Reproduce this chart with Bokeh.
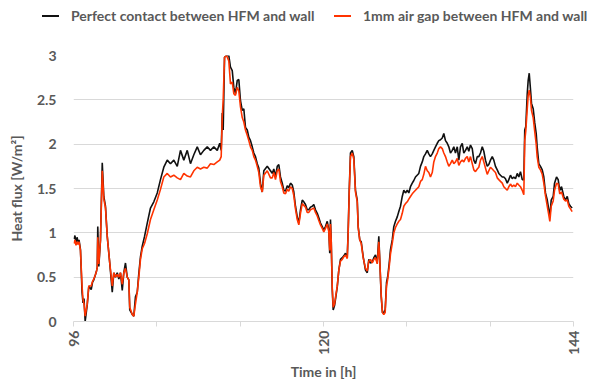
from bokeh.plotting import figure
from bokeh.layouts import column
from bokeh.models import Range1d, FixedTicker, Div
from bokeh.embed import file_html
from bokeh.resources import INLINE
import math

# Time axis [h] shared by both measurement series
hours = [
    96.05, 96.14, 96.24, 96.34, 96.43, 96.53, 96.67, 96.82, 96.91, 97.01,
    97.12, 97.32, 97.47, 97.58, 97.70, 97.82, 97.95, 98.11, 98.21, 98.28,
    98.33, 98.43, 98.59, 98.76, 98.91, 99.07, 99.24, 99.48, 99.72, 99.87,
    100.03, 100.20, 100.35, 100.51, 100.68, 100.83, 100.99, 101.16, 101.31, 101.40,
    101.64, 101.79, 101.95, 102.12, 102.27, 102.43, 102.60, 102.82, 103.08, 103.39,
    103.71, 104.04, 104.35, 104.67, 105.00, 105.31, 105.63, 105.96, 106.27, 106.59,
    106.92, 107.23, 107.55, 107.88, 108.19, 108.51, 108.84, 109.15, 109.47, 109.80,
    110.04, 110.18, 110.28, 110.37, 110.50, 110.69, 110.91, 111.07, 111.24, 111.39,
    111.55, 111.72, 111.87, 112.03, 112.20, 112.35, 112.51, 112.68, 112.83, 112.99,
    113.16, 113.31, 113.47, 113.64, 113.79, 113.95, 114.12, 114.27, 114.60, 114.91,
    115.08, 115.23, 115.39, 115.56, 115.71, 115.87, 116.04, 116.19, 116.35, 116.52,
    116.67, 116.83, 117.00, 117.15, 117.31, 117.48, 117.63, 117.79, 117.96, 118.11,
    118.27, 118.44, 118.59, 118.75, 118.92, 119.07, 119.23, 119.40, 119.55, 119.71,
    119.88, 120.03, 120.19, 120.36, 120.51, 120.60, 120.67, 120.74, 120.84, 120.93,
    121.06, 121.15, 121.32, 121.47, 121.63, 121.80, 121.95, 122.11, 122.28, 122.37,
    122.47, 122.59, 122.76, 122.91, 123.07, 123.24, 123.33, 123.48, 123.62, 123.81,
    124.03, 124.20, 124.35, 124.51, 124.68, 124.83, 124.99, 125.16, 125.31, 125.40,
    125.54, 125.66, 125.79, 125.92, 126.05, 126.17, 126.31, 126.43, 126.60, 126.75,
    126.91, 127.08, 127.23, 127.39, 127.56, 127.71, 127.87, 128.04, 128.19, 128.35,
    128.52, 128.67, 128.83, 129.15, 129.31, 129.48, 129.63, 129.79, 129.96, 130.11,
    130.27, 130.44, 130.59, 130.75, 130.92, 131.07, 131.23, 131.40, 131.55, 131.71,
    131.88, 132.03, 132.19, 132.36, 132.51, 132.67, 132.84, 132.99, 133.15, 133.32,
    133.47, 133.63, 133.80, 133.95, 134.11, 134.28, 134.43, 134.59, 134.76, 134.91,
    135.07, 135.24, 135.39, 135.55, 135.72, 135.87, 136.03, 136.20, 136.35, 136.51,
    136.68, 136.83, 136.99, 137.16, 137.31, 137.47, 137.64, 137.79, 137.95, 138.12,
    138.27, 138.43, 138.60, 138.75, 138.91, 139.08, 139.23, 139.32, 139.42, 139.56,
    139.65, 139.75, 139.87, 139.97, 140.13, 140.28, 140.42, 140.51, 140.67, 140.83,
    141.00, 141.15, 141.31, 141.48, 141.63, 141.73, 141.86, 142.05, 142.18, 142.37,
    142.53, 142.68, 142.85, 143.07, 143.23, 143.40, 143.55, 143.71, 143.87,
]

# Heat flux [W/m²], HFM in perfect contact with the wall
flux_contact = [
    0.93, 0.97, 0.88, 0.95, 0.90, 0.92, 0.81, 0.33, 0.21, 0.26,
    0.00, 0.19, 0.40, 0.38, 0.36, 0.44, 0.47, 0.53, 0.57, 0.61,
    1.07, 0.62, 0.92, 1.79, 1.41, 1.30, 0.96, 0.66, 0.33, 0.55,
    0.50, 0.55, 0.48, 0.55, 0.35, 0.55, 0.66, 0.50, 0.47, 0.13,
    0.08, 0.06, 0.28, 0.33, 0.54, 0.73, 0.85, 0.96, 1.11, 1.28,
    1.35, 1.45, 1.60, 1.74, 1.82, 1.78, 1.82, 1.75, 1.93, 1.82,
    1.93, 1.78, 1.88, 1.97, 1.88, 1.93, 1.97, 1.93, 1.97, 1.93,
    2.01, 1.93, 2.35, 2.16, 2.98, 3.00, 3.00, 2.87, 2.83, 2.64,
    2.57, 2.72, 2.73, 2.49, 2.38, 2.40, 2.19, 2.16, 2.08, 2.04,
    1.97, 1.90, 1.86, 1.78, 1.73, 1.56, 1.46, 1.70, 1.75, 1.70,
    1.67, 1.72, 1.63, 1.75, 1.77, 1.63, 1.56, 1.48, 1.47, 1.53,
    1.51, 1.56, 1.54, 1.46, 1.30, 1.18, 1.11, 1.26, 1.37, 1.35,
    1.32, 1.26, 1.26, 1.29, 1.30, 1.32, 1.26, 1.22, 1.17, 1.11,
    1.07, 1.03, 1.07, 1.13, 1.03, 0.77, 1.15, 0.92, 0.36, 0.13,
    0.18, 0.25, 0.39, 0.58, 0.70, 0.72, 0.74, 0.77, 0.72, 1.03,
    1.48, 1.90, 1.93, 1.86, 1.48, 1.37, 1.07, 0.92, 0.90, 0.73,
    0.58, 0.55, 0.70, 0.66, 0.67, 0.72, 0.75, 0.66, 0.96, 0.70,
    0.28, 0.10, 0.10, 0.13, 0.44, 0.51, 0.66, 0.81, 0.92, 1.07,
    1.13, 1.18, 1.24, 1.30, 1.41, 1.48, 1.45, 1.48, 1.45, 1.52,
    1.56, 1.59, 1.63, 1.67, 1.75, 1.80, 1.86, 1.89, 1.93, 1.89,
    1.86, 1.89, 1.93, 1.97, 2.01, 2.04, 2.05, 2.07, 2.12, 2.04,
    2.01, 1.97, 1.90, 1.93, 1.97, 1.90, 1.97, 1.82, 1.97, 2.01,
    1.90, 1.93, 1.97, 1.92, 1.99, 1.95, 1.82, 1.78, 1.86, 1.86,
    1.90, 1.97, 1.92, 1.82, 1.75, 1.77, 1.82, 1.86, 1.82, 1.75,
    1.71, 1.67, 1.65, 1.63, 1.63, 1.61, 1.56, 1.60, 1.65, 1.61,
    1.63, 1.61, 1.67, 1.63, 1.69, 1.60, 1.60, 2.16, 2.20, 2.57,
    2.72, 2.80, 2.62, 2.46, 2.40, 2.24, 2.12, 1.97, 1.78, 1.75,
    1.71, 1.63, 1.45, 1.37, 1.26, 1.18, 1.37, 1.41, 1.56, 1.63,
    1.60, 1.48, 1.52, 1.41, 1.37, 1.41, 1.33, 1.30, 1.28,
]

# Heat flux [W/m²], HFM with a 1 mm air gap to the wall
flux_gap = [
    0.88, 0.92, 0.86, 0.90, 0.87, 0.90, 0.80, 0.40, 0.25, 0.20,
    0.06, 0.20, 0.40, 0.40, 0.40, 0.45, 0.48, 0.53, 0.57, 0.61,
    0.95, 0.65, 0.92, 1.70, 1.38, 1.28, 0.96, 0.66, 0.40, 0.55,
    0.50, 0.53, 0.50, 0.55, 0.42, 0.55, 0.60, 0.50, 0.47, 0.16,
    0.08, 0.06, 0.20, 0.33, 0.50, 0.70, 0.82, 0.88, 0.99, 1.15,
    1.26, 1.37, 1.49, 1.63, 1.67, 1.63, 1.65, 1.62, 1.60, 1.67,
    1.64, 1.63, 1.70, 1.74, 1.72, 1.74, 1.73, 1.78, 1.77, 1.80,
    1.82, 1.86, 2.31, 2.50, 2.98, 3.00, 2.94, 2.68, 2.70, 2.57,
    2.55, 2.64, 2.60, 2.42, 2.30, 2.25, 2.16, 2.10, 2.04, 1.97,
    1.93, 1.86, 1.82, 1.75, 1.68, 1.52, 1.46, 1.65, 1.70, 1.62,
    1.62, 1.68, 1.60, 1.70, 1.72, 1.58, 1.52, 1.45, 1.44, 1.49,
    1.47, 1.52, 1.50, 1.42, 1.27, 1.15, 1.09, 1.22, 1.33, 1.31,
    1.29, 1.23, 1.23, 1.26, 1.27, 1.28, 1.23, 1.19, 1.14, 1.09,
    1.05, 1.01, 1.05, 1.10, 1.01, 0.80, 1.10, 0.92, 0.38, 0.16,
    0.20, 0.27, 0.40, 0.58, 0.68, 0.70, 0.73, 0.75, 0.71, 1.00,
    1.45, 1.86, 1.90, 1.83, 1.46, 1.35, 1.06, 0.92, 0.88, 0.72,
    0.60, 0.57, 0.68, 0.70, 0.66, 0.70, 0.72, 0.65, 0.90, 0.70,
    0.30, 0.10, 0.08, 0.10, 0.40, 0.48, 0.62, 0.76, 0.88, 1.00,
    1.06, 1.10, 1.13, 1.15, 1.22, 1.30, 1.33, 1.35, 1.38, 1.41,
    1.44, 1.46, 1.48, 1.52, 1.58, 1.60, 1.66, 1.75, 1.70, 1.68,
    1.63, 1.68, 1.80, 1.86, 1.90, 1.95, 1.97, 1.95, 1.90, 1.86,
    1.80, 1.75, 1.78, 1.82, 1.78, 1.80, 1.84, 1.76, 1.80, 1.82,
    1.80, 1.84, 1.86, 1.80, 1.86, 1.78, 1.71, 1.69, 1.72, 1.74,
    1.82, 1.86, 1.80, 1.73, 1.66, 1.70, 1.74, 1.72, 1.70, 1.68,
    1.62, 1.60, 1.58, 1.56, 1.52, 1.50, 1.48, 1.52, 1.55, 1.52,
    1.54, 1.52, 1.56, 1.54, 1.52, 1.48, 1.43, 2.04, 2.15, 2.40,
    2.55, 2.61, 2.52, 2.38, 2.30, 2.14, 2.00, 1.86, 1.74, 1.71,
    1.66, 1.56, 1.42, 1.30, 1.20, 1.13, 1.30, 1.36, 1.48, 1.56,
    1.55, 1.44, 1.46, 1.38, 1.36, 1.37, 1.30, 1.27, 1.24,
]

x_ticks = [96, 104, 112, 120, 128, 136, 144]
x_tick_labels = {104: "", 112: "", 128: "", 136: ""}
y_ticks = [0, 0.5, 1, 1.5, 2, 2.5, 3]
y_tick_labels = {0: "0", 1: "1", 2: "2", 3: "3"}

series_names = ["Perfect contact between HFM and wall",
                "1mm air gap between HFM and wall"]
series_colors = ["#111111", "#ff3300"]

FONT = "Lato"
TEXT = "#595959"
GRID = "#d9d9d9"
FS = "14px"
LW = 1.6
KEY_H = 30

# ---- legend strip above the chart (swatch + label per series) ----
entries = []
for name, color, x_at in zip(series_names, series_colors, [42, 334]):
    entries.append(
        f'<span style="position:absolute;left:{x_at}px;top:15px;width:17px;'
        f'height:0;border-top:2px solid {color};"></span>'
        f'<span style="position:absolute;left:{x_at + 29}px;top:7px;'
        f'line-height:17px;white-space:nowrap;">{name}</span>'
    )
key = Div(
    text=(f'<div style="position:relative;width:591px;height:{KEY_H}px;'
          f'font-family:{FONT};font-weight:bold;font-size:{FS};color:{TEXT};">'
          + "".join(entries) + "</div>"),
    width=591, height=KEY_H, margin=(0, 0, 0, 0),
)

# ---- main chart ----
p = figure(width=591, height=382 - KEY_H, output_backend="svg", toolbar_location=None,
           x_range=Range1d(96, 144), y_range=Range1d(0, 3),
           min_border_left=73, min_border_right=18,
           min_border_top=55 - KEY_H, min_border_bottom=58)
p.outline_line_color = None

p.line(hours, flux_contact, line_color=series_colors[0], line_width=LW)
p.line(hours, flux_gap, line_color=series_colors[1], line_width=LW)

# x axis: ticks every 8 h, labels only at full days
xa = p.xaxis[0]
xa.ticker = FixedTicker(ticks=x_ticks)
xa.major_label_overrides = x_tick_labels
xa.major_label_orientation = math.pi / 2
xa.axis_line_color = GRID
xa.major_tick_line_color = GRID
xa.major_tick_out = 5
xa.major_tick_in = 0
xa.minor_tick_line_color = None
xa.major_label_text_font = FONT
xa.major_label_text_font_size = FS
xa.major_label_text_font_style = "bold"
xa.major_label_text_color = TEXT
xa.major_label_standoff = 4
xa.axis_label = "Time in [h]"
xa.axis_label_text_font = FONT
xa.axis_label_text_font_size = FS
xa.axis_label_text_font_style = "bold"
xa.axis_label_text_color = TEXT
xa.axis_label_standoff = 5

ya = p.yaxis[0]
ya.ticker = FixedTicker(ticks=y_ticks)
ya.major_label_overrides = y_tick_labels
ya.axis_line_color = None
ya.major_tick_line_color = None
ya.minor_tick_line_color = None
ya.major_label_text_font = FONT
ya.major_label_text_font_size = FS
ya.major_label_text_font_style = "bold"
ya.major_label_text_color = TEXT
ya.major_label_standoff = 11
ya.axis_label = "Heat flux [W/m²]"
ya.axis_label_text_font = FONT
ya.axis_label_text_font_size = FS
ya.axis_label_text_font_style = "bold"
ya.axis_label_text_color = TEXT
ya.axis_label_standoff = 9

p.xgrid.grid_line_color = None
p.ygrid.grid_line_color = GRID
p.ygrid.grid_line_width = 1

layout = column(key, p, spacing=0)
open("out.html", "w").write(file_html(layout, INLINE))
